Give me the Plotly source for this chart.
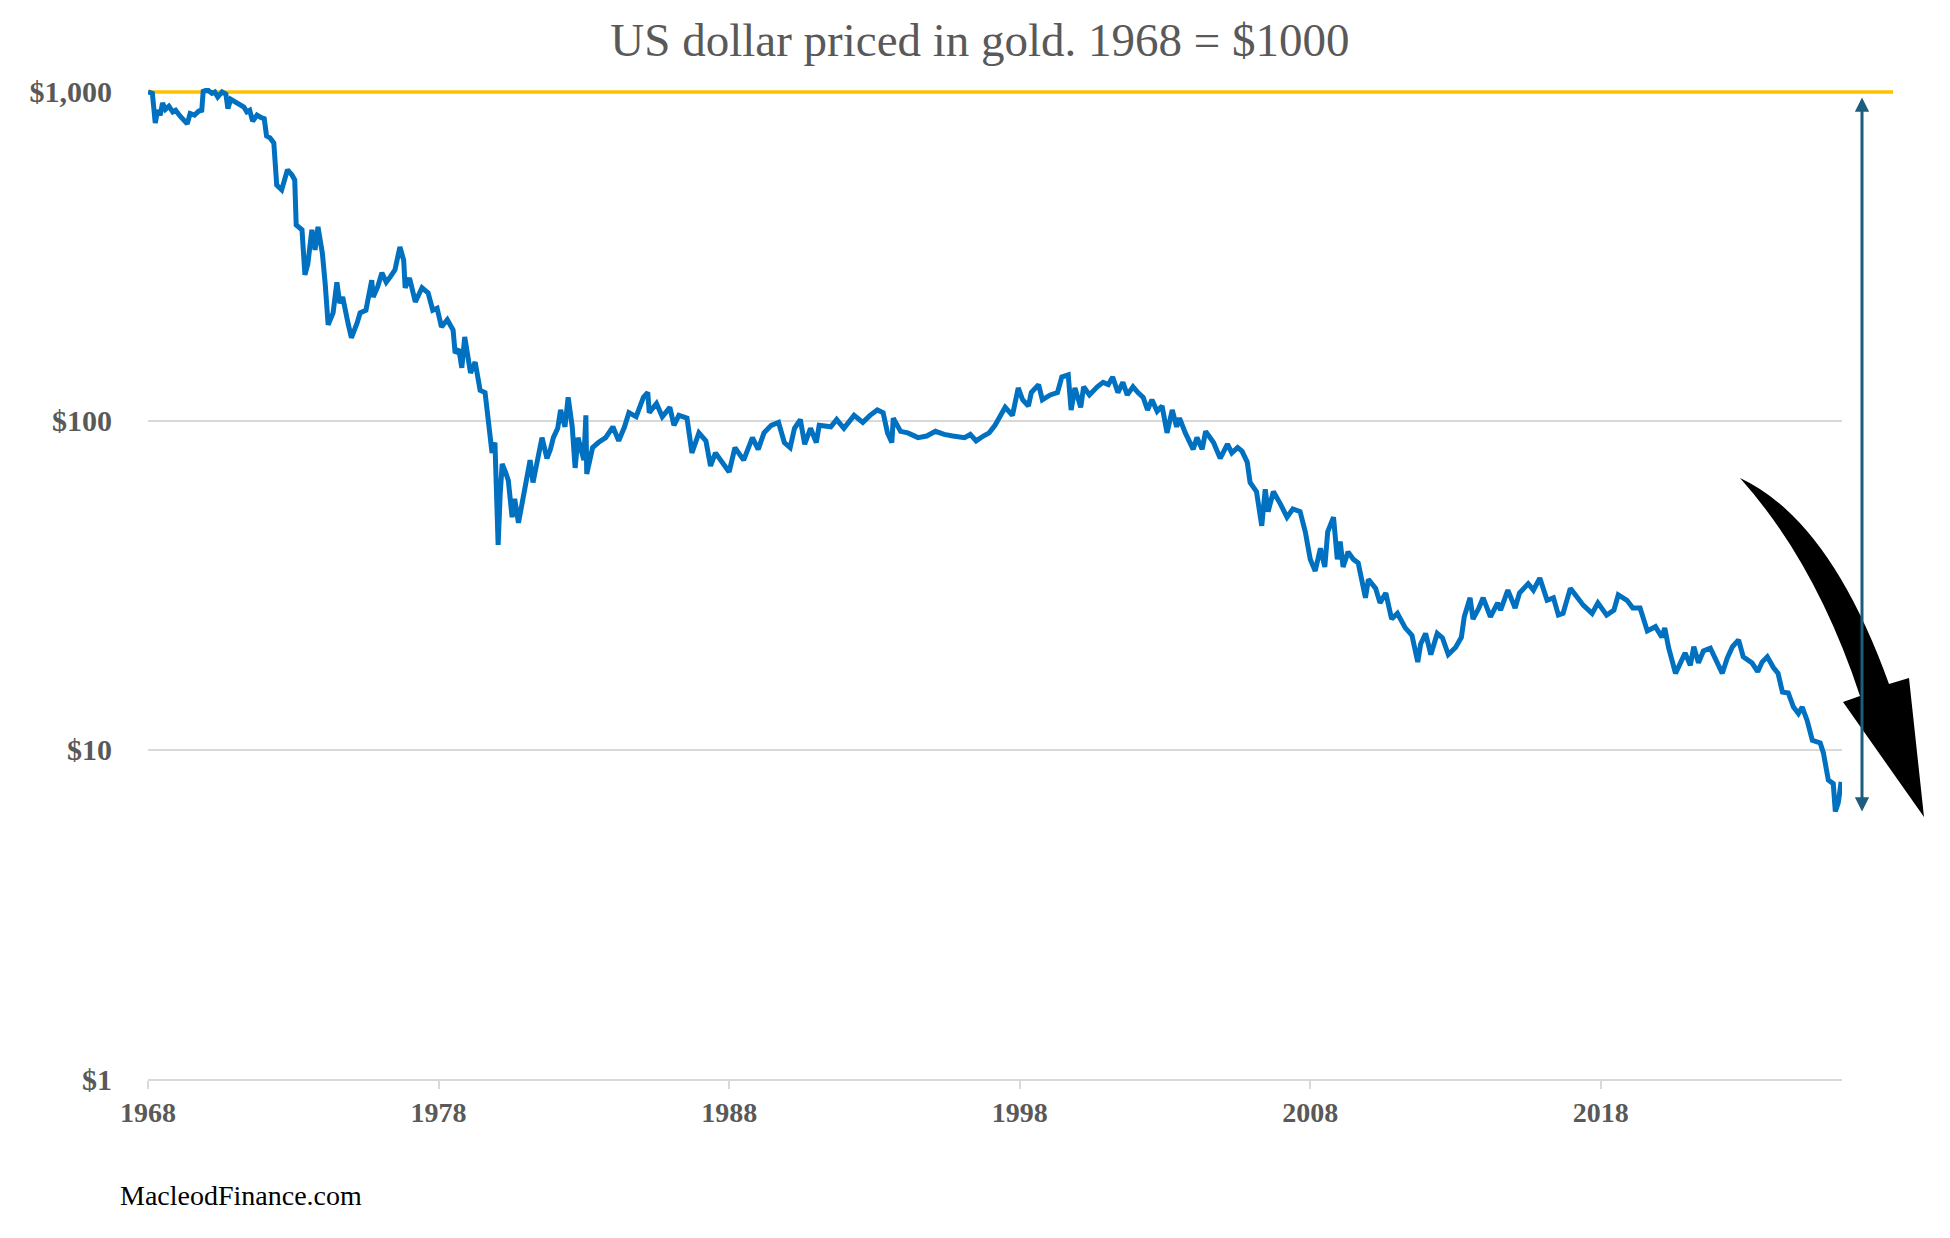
import math
import plotly.graph_objects as go

# ---------------- data ----------------
years = [
    1968.0, 1968.15, 1968.25, 1968.33, 1968.42, 1968.5, 1968.6, 1968.72, 1968.85, 1968.95,
    1969.1, 1969.25, 1969.35, 1969.45, 1969.6, 1969.75, 1969.85, 1969.9, 1970.05, 1970.2,
    1970.3, 1970.4, 1970.55, 1970.68, 1970.75, 1970.85, 1971.0, 1971.15, 1971.3, 1971.4,
    1971.5, 1971.6, 1971.75, 1971.9, 1972.0, 1972.08, 1972.2, 1972.33,
    1972.43, 1972.6, 1972.8, 1972.95, 1973.05, 1973.1, 1973.3, 1973.4, 1973.5, 1973.64,
    1973.75, 1973.85, 1974.0, 1974.1, 1974.2, 1974.37, 1974.5, 1974.6, 1974.7, 1974.88,
    1975.0, 1975.2, 1975.3, 1975.5, 1975.7, 1975.75, 1975.9, 1976.05, 1976.2, 1976.35,
    1976.5, 1976.67,
    1976.8, 1976.85, 1977.0, 1977.2, 1977.43, 1977.64, 1977.8, 1977.95, 1978.1, 1978.3,
    1978.5, 1978.57, 1978.7, 1978.8, 1978.9, 1979.1, 1979.26, 1979.43, 1979.6, 1979.67,
    1979.77, 1979.84, 1979.94, 1980.05, 1980.12, 1980.19, 1980.3, 1980.4, 1980.53, 1980.62,
    1980.75, 1980.9, 1980.98, 1981.15, 1981.25, 1981.4, 1981.56, 1981.73, 1981.85, 1981.95,
    1982.1, 1982.2, 1982.35, 1982.46, 1982.6, 1982.7, 1982.8, 1983.0, 1983.07, 1983.1,
    1983.3, 1983.5, 1983.75, 1984.0, 1984.2, 1984.4, 1984.55, 1984.8, 1985.05, 1985.2,
    1985.25, 1985.5, 1985.7, 1985.96, 1986.1, 1986.27, 1986.55, 1986.72, 1986.96, 1987.2,
    1987.36, 1987.53, 1987.78, 1988.0, 1988.2, 1988.5, 1988.8, 1989.0, 1989.2, 1989.45,
    1989.7, 1989.9, 1990.1, 1990.25, 1990.45, 1990.6, 1990.8, 1991.0, 1991.1, 1991.5,
    1991.7, 1991.95, 1992.3, 1992.6, 1992.85, 1993.1, 1993.3, 1993.45, 1993.6, 1993.65,
    1993.9,
    1994.15, 1994.5, 1994.8, 1995.1, 1995.4, 1995.7, 1996.1, 1996.3, 1996.5, 1996.75,
    1996.95, 1997.15,
    1997.3, 1997.5, 1997.75, 1997.95, 1998.1, 1998.3, 1998.4, 1998.65, 1998.78, 1999.05,
    1999.3, 1999.45, 1999.67, 1999.77, 1999.9, 2000.1, 2000.2, 2000.4, 2000.67, 2000.87,
    2001.05, 2001.2, 2001.38, 2001.55, 2001.7, 2001.9, 2002.07, 2002.25, 2002.4, 2002.55,
    2002.73, 2002.9, 2003.07, 2003.25, 2003.4, 2003.5, 2003.7, 2003.97, 2004.1, 2004.28,
    2004.4, 2004.67, 2004.9, 2005.15, 2005.3, 2005.5, 2005.65, 2005.83, 2005.93, 2006.15,
    2006.33, 2006.45, 2006.55, 2006.73, 2006.97, 2007.2, 2007.4, 2007.65, 2007.83, 2008.0,
    2008.17, 2008.35, 2008.5, 2008.6, 2008.8, 2008.93, 2009.03, 2009.13, 2009.3, 2009.48,
    2009.65, 2009.9, 2010.0, 2010.25, 2010.4, 2010.6, 2010.8, 2011.0, 2011.27, 2011.5,
    2011.7, 2011.8, 2011.97, 2012.15, 2012.37, 2012.55, 2012.75, 2013.0, 2013.2, 2013.3,
    2013.5, 2013.6, 2013.8, 2013.95, 2014.2, 2014.45,
    2014.55, 2014.8, 2015.05, 2015.2, 2015.5, 2015.68, 2015.9, 2016.0, 2016.15, 2016.37,
    2016.54, 2016.7, 2016.95, 2017.2, 2017.4, 2017.7, 2017.9, 2018.2, 2018.45, 2018.6,
    2018.9, 2019.1, 2019.35, 2019.6, 2019.88, 2020.1, 2020.2, 2020.33, 2020.57, 2020.74,
    2020.9, 2021.08, 2021.2, 2021.36, 2021.53, 2021.77, 2021.94, 2022.18, 2022.35, 2022.53,
    2022.74, 2022.9, 2023.2, 2023.4, 2023.55, 2023.73, 2023.94, 2024.1, 2024.25, 2024.45,
    2024.63, 2024.8, 2024.93, 2025.1, 2025.28, 2025.55, 2025.66, 2025.83, 2026.0, 2026.07,
    2026.17, 2026.27,
]

usd_in_gold = [
    1000, 990, 805, 880, 850, 926, 885, 905, 870, 880,
    845, 815, 800, 860, 850, 875, 880, 1005, 1015, 990,
    1000, 965, 1000, 985, 890, 950, 930, 915, 900, 870,
    880, 815, 850, 835, 830, 735, 725, 700,
    521, 504, 580, 560, 540, 394, 381, 278, 300, 381,
    331, 389, 324, 260, 196, 213, 264, 228, 238, 199,
    179, 199, 213, 217, 268, 238, 255, 282, 264, 275,
    288, 338,
    308, 254, 272, 230, 254, 245, 217, 220, 193, 203,
    189, 161, 165, 145, 180, 140, 151, 124, 122, 108,
    92, 80, 86, 42, 60, 74, 70, 66, 51, 58,
    49, 57, 63, 76, 65, 75, 89, 77, 82, 89,
    95, 108, 96, 118, 96, 72, 89, 76, 104, 69,
    83, 86, 89, 96, 87, 96, 106, 103, 118, 122,
    106, 113, 103, 110, 97, 104, 102, 80, 92, 87,
    73, 80, 75, 70, 83, 76, 89, 82, 92, 97,
    99, 86, 83, 95, 101, 85, 95, 86, 97, 96,
    101, 95, 104, 99, 104, 108, 106, 92, 86, 102,
    93,
    92, 89, 90, 93, 91, 90, 89, 91, 87, 90,
    92, 97,
    102, 110, 104, 126, 116, 111, 122, 129, 116, 120,
    122, 136, 138, 108, 126, 110, 127, 120, 127, 131,
    129, 136, 122, 131, 120, 127, 122, 118, 108, 116,
    107, 111, 92, 108, 96, 102, 92, 82, 89, 82,
    93, 86, 77, 85, 80, 83, 81, 75, 65, 61,
    48, 62, 53, 61, 56, 51, 54, 53, 46, 38,
    35, 41, 36, 46, 51, 38, 43, 36, 40, 38,
    37, 29, 33, 31, 28, 30, 25, 26, 23.5, 22.3,
    18.5, 21, 22.6, 19.5, 22.6, 21.9, 19.5, 20.5, 22, 25.4,
    29, 25, 27, 29, 25.4, 28,
    26.6, 30.6, 27, 30, 32, 30.6, 33.3, 31, 28.5, 29,
    25.7, 26, 31, 29, 27.5, 26, 28, 25.7, 26.6, 29.6,
    28.5, 27, 27, 23, 23.7, 22, 23.5, 20.5, 17.1, 18.4,
    19.7, 18.1, 20.6, 18.4, 20, 20.4, 19, 17.1, 19, 20.6,
    21.6, 19.2, 18.4, 17.3, 18.5, 19.2, 17.8, 17.1, 15, 14.9,
    13.5, 12.9, 13.5, 12.3, 10.7, 10.5, 9.8, 8.1, 7.9, 6.5,
    6.9, 8.0,
]

gold_years = [1968.0, 2026.3]
gold_values = [1000, 1000]

x_ticks = [1968, 1978, 1988, 1998, 2008, 2018]
x_tick_labels = ["1968", "1978", "1988", "1998", "2008", "2018"]
y_ticks = [1, 10, 100, 1000]
y_tick_labels = ["$1", "$10", "$100", "$1,000"]

TITLE = "US dollar priced in gold. 1968 = $1000"
SOURCE = "MacleodFinance.com"

# ---------------- layout geometry ----------------
FIG_W, FIG_H = 1950, 1238
ML, MR, MT, MB = 148, 108, 88, 159
PW = FIG_W - ML - MR
PH = FIG_H - MT - MB

GREY_TXT = "#595959"
GRID = "#D9D9D9"
BLUE = "#0070C0"
GOLD = "#FFC000"
TEAL = "#1C5D7D"


def paper(px, py):
    return (px - ML) / PW, (FIG_H - MB - py) / PH


fig = go.Figure()

fig.add_trace(go.Scatter(
    x=gold_years, y=gold_values, mode="lines",
    line=dict(color=GOLD, width=3.5), hoverinfo="skip",
))
fig.add_trace(go.Scatter(
    x=years, y=usd_in_gold, mode="lines",
    line=dict(color=BLUE, width=5), hoverinfo="skip",
))

# gold line continues past the plot area
gx_end, _ = paper(1893, 0)
fig.add_shape(type="line", xref="paper", yref="y",
              x0=1.0, x1=gx_end,
              y0=gold_values[-1], y1=gold_values[-1],
              line=dict(color=GOLD, width=3.5))

# double-headed arrow from the gold line down to the latest low
ax_x, _ = paper(1862, 0)
fig.add_annotation(
    xref="paper", yref="y", x=ax_x, y=math.log10(min(usd_in_gold)),
    axref="pixel", ayref="y", ax=0, ay=math.log10(gold_values[-1]),
    showarrow=True, arrowside="end+start", arrowhead=2, startarrowhead=2,
    arrowsize=0.95, startarrowsize=0.95, arrowwidth=3, arrowcolor=TEAL,
    standoff=0, startstandoff=4, text="",
)

# black curved arrow
pts = {
    "T": (1740, 478), "Cout": (1830, 520), "Sout": (1889, 684),
    "RB": (1909, 678), "TIP": (1924, 817), "LB": (1843, 702),
    "Sin": (1860, 696), "Cin": (1816, 563),
}
pp = {k: paper(*v) for k, v in pts.items()}
f = lambda k: f"{pp[k][0]:.5f},{pp[k][1]:.5f}"
path = (f"M{f('T')} Q{f('Cout')} {f('Sout')} L{f('RB')} L{f('TIP')} "
        f"L{f('LB')} L{f('Sin')} Q{f('Cin')} {f('T')} Z")
fig.add_shape(type="path", xref="paper", yref="paper", path=path,
              fillcolor="black", line=dict(width=0), layer="above")

# source text
sx, sy = paper(118, 1195)
fig.add_annotation(xref="paper", yref="paper", x=sx, y=sy,
                   xanchor="left", yanchor="middle", showarrow=False,
                   text=SOURCE,
                   font=dict(family="Liberation Serif", size=28, color="#000000"))

xtickfont = dict(family="Liberation Serif", size=28, color=GREY_TXT, weight="bold")
ytickfont = dict(family="Liberation Serif", size=30, color=GREY_TXT, weight="bold")

fig.update_layout(
    width=FIG_W, height=FIG_H,
    margin=dict(l=ML, r=MR, t=MT, b=MB),
    paper_bgcolor="white", plot_bgcolor="white",
    showlegend=False,
    title=dict(text=TITLE, xref="container", yref="container",
               x=980 / FIG_W, y=1 - 40 / FIG_H, xanchor="center", yanchor="middle",
               font=dict(family="Liberation Serif", size=47, color=GREY_TXT)),
    xaxis=dict(range=[1968, 2026.3], tickvals=x_ticks, ticktext=x_tick_labels,
               showgrid=False, zeroline=False, showline=True, linecolor=GRID,
               linewidth=1.5, ticks="outside", ticklen=8, tickwidth=1.5,
               tickcolor=GRID, tickfont=xtickfont, ticklabelstandoff=0),
    yaxis=dict(type="log", range=[0, 3.012], tickvals=y_ticks, ticktext=y_tick_labels,
               showgrid=True, gridcolor=GRID, gridwidth=1.5, zeroline=False,
               showline=False, ticks="", tickfont=ytickfont, ticklabelstandoff=35),
)

fig.write_html("out.html")
